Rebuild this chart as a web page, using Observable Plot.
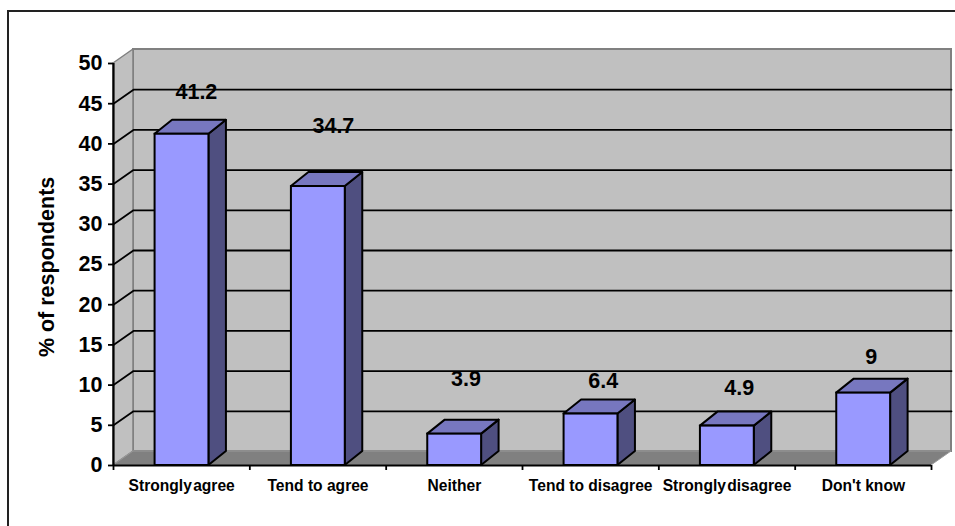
<!DOCTYPE html>
<html>
<head>
<meta charset="utf-8">
<script src="https://cdn.jsdelivr.net/npm/d3@7"></script>
<script src="https://cdn.jsdelivr.net/npm/@observablehq/plot@0.6"></script>
<style>
  html, body { margin: 0; padding: 0; background: #fff; overflow: hidden; }
  #page { position: relative; width: 955px; height: 526px; }
  #page svg { position: absolute; left: 0; top: 0; }
  /* Outer chart border: only its top and left edges fall inside the page */
  #edge { position: absolute; left: 7px; top: 10px; right: -4px; bottom: -4px;
          border-left: 2px solid #222; border-top: 2px solid #222; }
</style>
</head>
<body>
<div id="page"><div id="edge"></div></div>
<script>
// Survey answers and the share of respondents giving each one
const categories = ["Strongly\u200Aagree", "Tend to agree", "Neither", "Tend to disagree", "Strongly\u200Adisagree", "Don't know"];
const shares = [41.2, 34.7, 3.9, 6.4, 4.9, 9];
const yTicks = [0, 5, 10, 15, 20, 25, 30, 35, 40, 45, 50];
const axisTitle = "% of respondents";

// Placement of each value label relative to its bar, in axis units
const labelLift = [5.29, 7.54, 6.81, 4.1, 4.69, 4.45];
const labelNudge = [0.108, 0.113, 0.086, 0.092, 0.089, 0.057];

// Oblique depth of the box and of the bars, in axis units
const wallDepthX = 20 / 136.4;
const barDepthX = 17.5 / 136.4;
const depthY = 14 / 8.04;
const barLeft = 0.305;
const barRight = 0.7;
const yMax = 50;
const n = categories.length;
const bounds = d3.range(n + 1);

const rows = categories.map((c, i) => ({c, i, v: shares[i]}));

// Faces of each bar, expressed as parallelograms
const sideFaces = rows.flatMap(({c, i, v}) => [
  {c, x: i + barRight, y1: 0, y2: v},
  {c, x: i + barRight + barDepthX, y1: depthY, y2: v + depthY}
]);
const topFaces = rows.flatMap(({c, i, v}) => [
  {c, x1: i + barLeft, x2: i + barRight, y: v},
  {c, x1: i + barLeft + barDepthX, x2: i + barRight + barDepthX, y: v + depthY}
]);

// Horizontal gridlines run up the left wall and across the back wall
const gridLines = yTicks.filter((t) => t > 0 && t < yMax).flatMap((t) => [
  {t, x: 0, y: t},
  {t, x: wallDepthX, y: t + depthY},
  {t, x: n + wallDepthX, y: t + depthY}
]);

const leftWall = [
  {x: 0, y1: 0, y2: yMax},
  {x: wallDepthX, y1: depthY, y2: yMax + depthY}
];
const floor = [
  {x1: 0, x2: n, y: 0},
  {x1: wallDepthX, x2: n + wallDepthX, y: depthY}
];

const black = "#000";
const chart = Plot.plot({
  width: 955,
  height: 526,
  marginLeft: 113,
  marginRight: 4,
  marginTop: 49,
  marginBottom: 61,
  x: {domain: [0, n + wallDepthX], axis: null},
  y: {domain: [0, yMax + depthY], axis: null},
  style: {fontFamily: "'Liberation Sans', Arial, sans-serif", background: "transparent", color: black},
  marks: [
    // Back wall, left wall and floor
    Plot.rect([0], {x1: () => wallDepthX, x2: () => n + wallDepthX, y1: () => depthY, y2: () => yMax + depthY,
      fill: "#c0c0c0", stroke: "#808080", strokeWidth: 2}),
    Plot.area(leftWall, {x1: "x", y1: "y1", y2: "y2", fill: "#c0c0c0", stroke: "#808080", strokeWidth: 1.5}),
    Plot.area(floor, {x1: "x1", x2: "x2", y1: "y", fill: "#808080", stroke: "#9a9a9a", strokeWidth: 1}),
    Plot.line(gridLines, {x: "x", y: "y", z: "t", stroke: black, strokeWidth: 1.8}),

    // Front axes with their tick marks
    Plot.ruleX([0], {y1: 0, y2: yMax, stroke: black, strokeWidth: 2.2}),
    Plot.ruleY([0], {x1: 0, x2: n, stroke: black, strokeWidth: 2.2}),
    Plot.ruleX(bounds, {y1: 0, y2: -0.62, stroke: black, strokeWidth: 1.8}),
    Plot.axisY(yTicks, {anchor: "left", label: null, tickSize: 5, tickPadding: 6, strokeWidth: 1.8,
      fontSize: 21.5, fontWeight: "bold", fill: black, stroke: black, textStroke: "none"}),

    // Bars
    Plot.area(sideFaces, {x1: "x", y1: "y1", y2: "y2", z: "c", fill: "#4f4f80", stroke: black, strokeWidth: 2, strokeLinejoin: "round"}),
    Plot.area(topFaces, {x1: "x1", x2: "x2", y1: "y", z: "c", fill: "#7777bf", stroke: black, strokeWidth: 2, strokeLinejoin: "round"}),
    Plot.rect(rows, {x1: (d) => d.i + barLeft, x2: (d) => d.i + barRight, y1: () => 0, y2: "v",
      fill: "#9999ff", stroke: black, strokeWidth: 2}),

    // Value labels, category labels and axis title
    Plot.text(rows, {x: (d) => d.i + 0.5 + labelNudge[d.i], y: (d) => d.v + labelLift[d.i], text: (d) => String(d.v),
      fontSize: 21.5, fontWeight: "bold", fill: black, lineAnchor: "middle"}),
    Plot.text(rows, {x: (d) => d.i + 0.5, y: () => -2.5, text: "c",
      fontSize: 15.6, fontWeight: "bold", fill: black, lineAnchor: "middle"}),
    Plot.text([axisTitle], {x: () => -0.485, y: () => 24.7, text: (d) => d, rotate: -90,
      fontSize: 21.5, fontWeight: "bold", fill: black, lineAnchor: "middle"})
  ]
});
document.getElementById("page").appendChild(chart);
</script>
</body>
</html>
